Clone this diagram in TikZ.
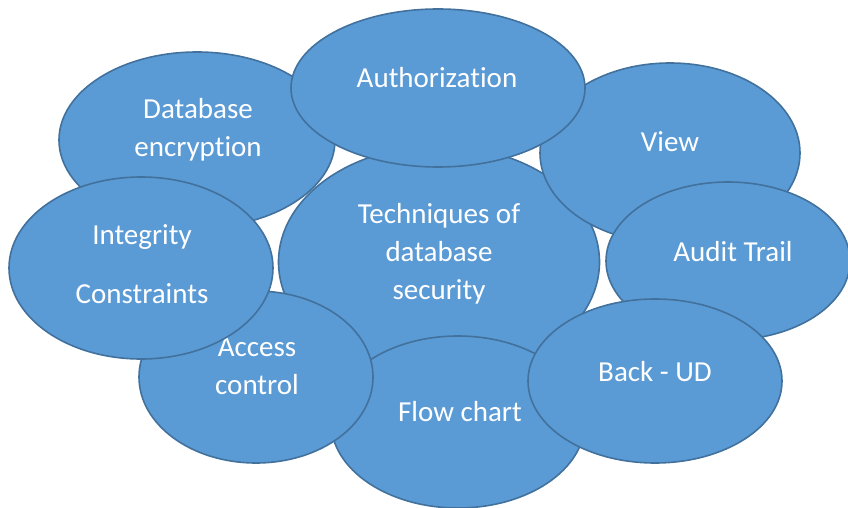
\documentclass[tikz,border=0pt]{standalone}
\usepackage{fontspec}
\setmainfont[Ligatures = NoCommon]{Carlito}
\usetikzlibrary{shapes.geometric}
\definecolor{bubblefill}{HTML}{5B9BD5}
\definecolor{bubbleline}{HTML}{41719C}
\tikzset{
  bubble/.style = {ellipse, draw = bubbleline, fill = bubblefill, line width = 1.6pt, inner sep = 0pt},
  bubbletext/.style = {text = white, align = center, inner sep = 0pt, font = \fontsize{29}{38}\selectfont}
}
\begin{document}
\begin{tikzpicture}[x = 1pt, y = -1pt]
	\useasboundingbox (0, 0) rectangle (848, 508);
	% middle ellipse, lies under all the others
	\node[bubble, minimum width = 321, minimum height = 232] (core) at (439, 262) {};
	\node[bubbletext] (coretext) at (439, 254) {Techniques of\\database\\security};
	% right side
	\node[bubble, minimum width = 260, minimum height = 180] (view) at (670, 153) {};
	\node[bubbletext] (viewtext) at (670, 142) {View};
	\node[bubble, minimum width = 244, minimum height = 158] (audit) at (728, 261) {};
	\node[bubbletext] (audittext) at (733, 252) {Audit Trail};
	% bottom
	\node[bubble, minimum width = 254, minimum height = 172] (flow) at (458, 422) {};
	\node[bubbletext] (flowtext) at (460, 412) {Flow chart};
	\node[bubble, minimum width = 254, minimum height = 164] (backup) at (655, 381) {};
	\node[bubbletext] (backuptext) at (655, 372) {Back - UD};
	% left side
	\node[bubble, minimum width = 234, minimum height = 172] (access) at (256, 377) {};
	\node[bubbletext] (accesstext) at (257, 366) {Access\\control};
	\node[bubble, minimum width = 276, minimum height = 176] (encrypt) at (197, 140) {};
	\node[bubbletext] (encrypttext) at (198, 130) {Database\\encryption};
	\node[bubble, minimum width = 264, minimum height = 182] (integrity) at (141, 268) {};
	\node[bubbletext] (integritytext) at (142, 264) {Integrity\\[21pt]Constraints};
	% top ellipse, lies over its neighbours
	\node[bubble, minimum width = 294, minimum height = 158] (auth) at (438, 88) {};
	\node[bubbletext] (authtext) at (437, 78) {Authorization};
\end{tikzpicture}
\end{document}
